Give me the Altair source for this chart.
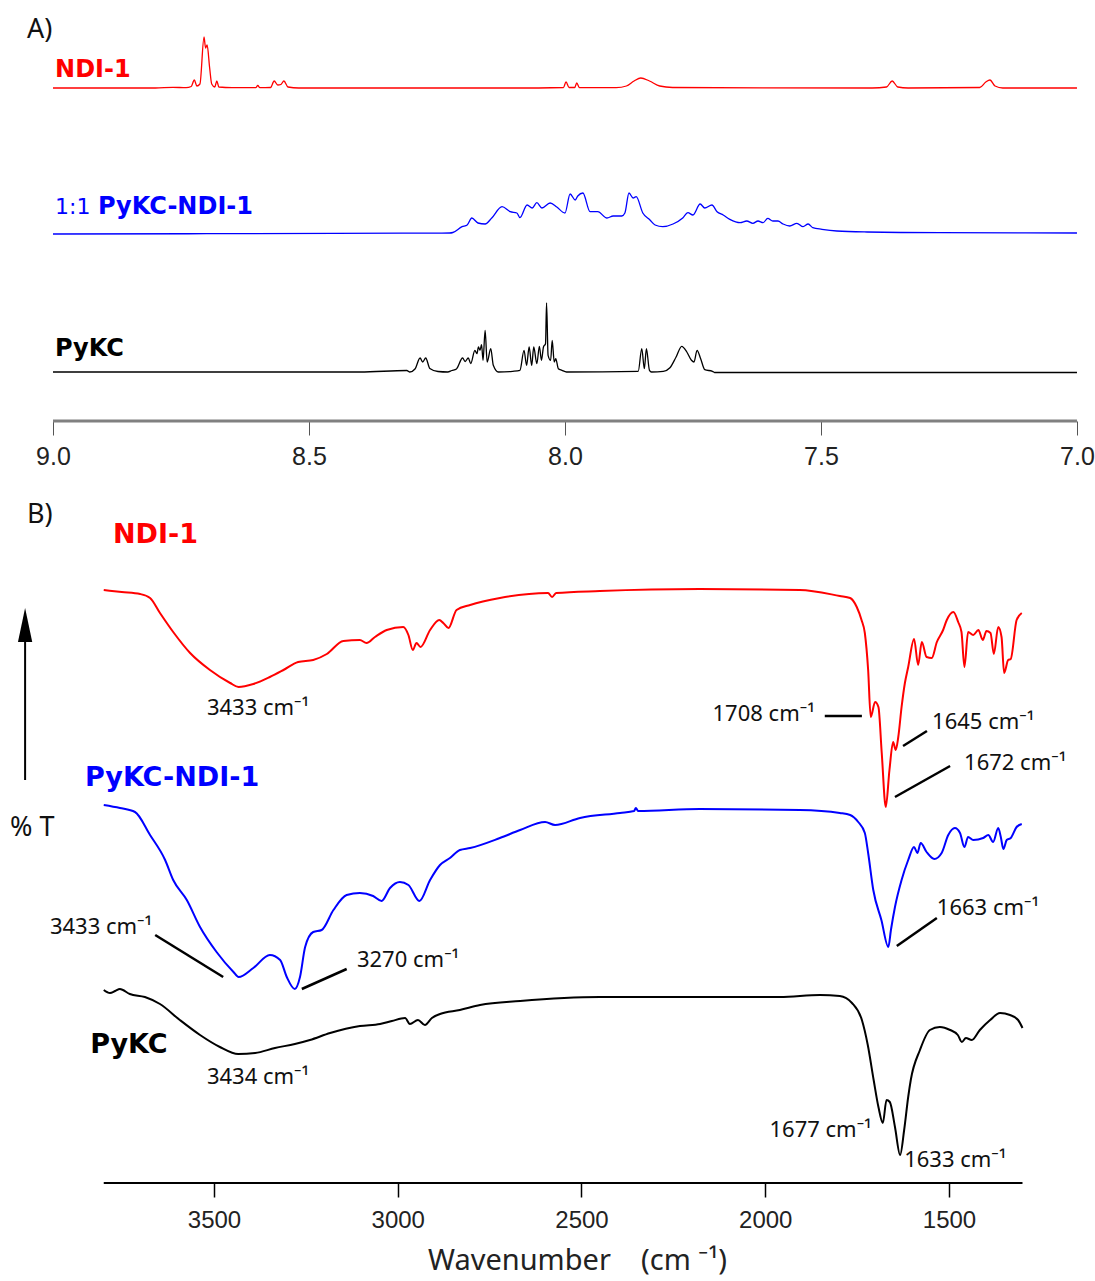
import altair as alt
import pandas as pd

# ---------------- Panel A : 1H NMR (ppm, intensity above each baseline) ----------------
nmr_series = ["NDI-1", "1:1 PyKC-NDI-1", "PyKC"]
nmr_colors = ["#ff0000", "#0000ff", "#000000"]
nmr_offsets = [333, 187, 49]          # vertical stacking of the traces
nmr_ticks = [9.0, 8.5, 8.0, 7.5, 7.0]

ndi_ppm = [9.00, 8.80, 8.766, 8.74, 8.730, 8.724, 8.719, 8.713, 8.705, 8.702,
           8.699, 8.694, 8.690, 8.684, 8.680, 8.676, 8.65, 8.604, 8.600, 8.596,
           8.575, 8.568, 8.561, 8.555, 8.549, 8.541, 8.52, 8.10, 8.003, 7.998,
           7.992, 7.981, 7.977, 7.972, 7.90, 7.88, 7.865, 7.852, 7.835, 7.815,
           7.79, 7.40, 7.372, 7.361, 7.350, 7.33, 7.19, 7.178, 7.170, 7.160,
           7.145, 7.00]
ndi_int = [0, 0, 0.7, 0.3, 1.5, 8, 2, 4, 51, 40,
           43, 20, 4, 1, 7, 1, 0.3, 0.3, 2.5, 0.3,
           0.5, 7, 3, 3.5, 7, 1, 0, 0, 0.5, 6,
           0.5, 0.5, 5, 0.5, 0.3, 2, 7, 10, 7, 2,
           0.5, 0, 1, 7, 1, 0, 0.5, 6, 8, 2,
           0, 0]

mix_ppm = [9.00, 8.70, 8.45, 8.225, 8.219, 8.201, 8.191, 8.182, 8.170, 8.156,
           8.143, 8.123, 8.107, 8.094, 8.088, 8.074, 8.064, 8.055, 8.045, 8.029,
           8.016, 8.000, 7.990, 7.980, 7.975, 7.965, 7.951, 7.936, 7.918, 7.906,
           7.889, 7.883, 7.875, 7.867, 7.861, 7.848, 7.834, 7.824, 7.809, 7.789,
           7.770, 7.760, 7.750, 7.736, 7.727, 7.713, 7.703, 7.691, 7.678, 7.658,
           7.645, 7.633, 7.623, 7.613, 7.604, 7.594, 7.584, 7.574, 7.561, 7.547,
           7.535, 7.525, 7.516, 7.498, 7.469, 7.410, 7.268, 7.10, 7.00]
mix_int = [0, 0.3, 0.7, 1, 1.5, 7.3, 9, 16, 11, 10,
           16, 27.3, 22.3, 21, 16.3, 29, 26, 31.3, 26, 31,
           27, 21, 40, 34, 38, 41, 22.3, 22.3, 16, 18,
           18, 21, 41, 36, 37.3, 21, 14, 9, 7.3, 10,
           16, 21.3, 19, 30, 26, 29, 22.3, 19, 14.7, 11.3,
           13, 10.7, 13, 11.3, 15.7, 13, 13, 10, 8, 10.7,
           7.3, 10, 6.3, 4.7, 3, 2, 1.3, 1.2, 1]

pykc_ppm = [9.00, 8.40, 8.309, 8.303, 8.293, 8.283, 8.278, 8.272, 8.264, 8.248,
            8.229, 8.221, 8.212, 8.200, 8.195, 8.189, 8.184, 8.176, 8.172, 8.169,
            8.166, 8.163, 8.160, 8.156, 8.152, 8.145, 8.140, 8.130, 8.102, 8.088,
            8.080, 8.075, 8.070, 8.065, 8.061, 8.055, 8.050, 8.046, 8.042, 8.038,
            8.036, 8.033, 8.028, 8.025, 8.021, 8.018, 8.013, 8.006, 7.997, 7.857,
            7.850, 7.845, 7.841, 7.835, 7.831, 7.808, 7.795, 7.783, 7.772, 7.762,
            7.753, 7.748, 7.742, 7.735, 7.727, 7.712, 7.708, 7.00]
pykc_int = [0, 0, 1.5, 0, 3, 14, 10, 14, 3.5, 0.5,
            0, 1.5, 3, 14, 10.5, 14, 8.5, 21.7, 18.3, 25,
            21.7, 27.3, 11.7, 41.7, 10, 23.3, 6.7, 0, 0.7, 1.7,
            21.7, 6.7, 25, 6.7, 25, 8.3, 25.7, 11.7, 25, 28.3,
            69, 16.7, 11.7, 31.7, 10, 13.3, 3.3, 1.7, 0, 0.7,
            23.3, 3.3, 23.3, 1.7, 0, 0.7, 4.3, 15, 25.7, 20,
            11.7, 10, 21.7, 13.3, 2.3, 0.7, -0.5, -0.5]

# ---------------- Panel B : FT-IR (wavenumber, transmittance, stacked, arbitrary units) ----------------
ir_series = ["NDI-1", "PyKC-NDI-1", "PyKC"]
ir_colors = ["#ff0000", "#0000ff", "#000000"]
ir_ticks = [3500, 3000, 2500, 2000, 1500]
ir_range = [3800, 1300]

ir_ndi_wn = [3800, 3751, 3701, 3674, 3647, 3611, 3565, 3511, 3456, 3433,
             3393, 3348, 3311, 3271, 3230, 3193, 3148, 3103, 3085, 3062,
             3030, 2985, 2971, 2959, 2949, 2938, 2912, 2887, 2876, 2862,
             2840, 2803, 2722, 2591, 2580, 2569, 2450, 2178, 1906, 1797,
             1769, 1751, 1738, 1729, 1720, 1713, 1701, 1692, 1683, 1672,
             1662, 1652, 1645, 1638, 1629, 1620, 1611, 1595, 1584, 1574,
             1561, 1547, 1533, 1516, 1506, 1488, 1475, 1466, 1458, 1448,
             1434, 1420, 1408, 1398, 1387, 1378, 1366, 1357, 1350, 1339,
             1332, 1316, 1302]
ir_ndi_t = [593, 591, 589, 585, 570, 551, 530, 513, 500, 496,
            499, 506, 513, 521, 523, 529, 542, 543, 540, 546,
            553, 556, 548, 533, 540, 536, 553, 563, 560, 555,
            573, 578, 585, 590, 586, 590, 592, 594, 593, 587,
            585, 576, 563, 550, 513, 466, 481, 476, 430, 376,
            413, 441, 433, 446, 476, 500, 516, 544, 518, 541,
            526, 525, 541, 553, 563, 571, 561, 551, 516, 551,
            548, 553, 543, 552, 550, 529, 556, 546, 510, 523,
            524, 563, 570]

ir_mix_wn = [3800, 3756, 3715, 3674, 3633, 3611, 3574, 3538, 3493, 3447,
             3433, 3393, 3348, 3320, 3302, 3280, 3266, 3252, 3230, 3207,
             3175, 3139, 3103, 3067, 3044, 3021, 2994, 2971, 2941, 2912,
             2885, 2858, 2831, 2803, 2722, 2667, 2599, 2572, 2504, 2395,
             2357, 2352, 2346, 2178, 1906, 1797, 1769, 1747, 1729, 1720,
             1706, 1684, 1665, 1658, 1647, 1629, 1611, 1595, 1586, 1577,
             1561, 1540, 1520, 1502, 1484, 1470, 1458, 1448, 1434, 1407,
             1393, 1380, 1366, 1359, 1352, 1343, 1332, 1316, 1302]
ir_mix_t = [378, 375, 371, 348, 323, 303, 283, 256, 231, 211,
            206, 215, 228, 223, 206, 194, 206, 236, 251, 253,
            273, 288, 290, 287, 282, 295, 301, 298, 282, 303,
            318, 325, 333, 335, 345, 353, 361, 358, 365, 370,
            372, 375, 372, 374, 373, 370, 368, 361, 350, 330,
            293, 263, 236, 253, 276, 303, 323, 336, 330, 340,
            331, 324, 330, 348, 355, 350, 336, 346, 343, 345,
            348, 341, 355, 346, 334, 343, 345, 356, 359]

ir_pykc_wn = [3800, 3783, 3769, 3756, 3729, 3688, 3647, 3593, 3538, 3484,
              3434, 3388, 3334, 3280, 3239, 3184, 3103, 3048, 3016, 2980,
              2967, 2945, 2926, 2907, 2885, 2831, 2776, 2667, 2450, 2178,
              1960, 1851, 1797, 1764, 1737, 1721, 1705, 1692, 1680, 1670,
              1661, 1647, 1633, 1622, 1611, 1604, 1579, 1552, 1525, 1497,
              1476, 1465, 1454, 1438, 1416, 1388, 1361, 1334, 1312, 1300]
ir_pykc_t = [193, 190, 192, 194, 189, 186, 179, 163, 148, 136,
             129, 130, 135, 139, 143, 150, 157, 159, 162, 165,
             159, 163, 158, 165, 169, 173, 178, 182, 186, 186,
             186, 188, 187, 180, 163, 138, 103, 76, 60, 83,
             81, 56, 28, 53, 86, 103, 133, 153, 156, 153,
             148, 141, 145, 143, 153, 163, 170, 168, 163, 155]

# peak annotations: text, anchor wavenumber, anchor value, alignment
ann_text = ["3433 cm⁻¹", "3434 cm⁻¹", "1708 cm⁻¹", "3433 cm⁻¹", "1677 cm⁻¹",
            "1645 cm⁻¹", "1672 cm⁻¹", "3270 cm⁻¹", "1663 cm⁻¹", "1633 cm⁻¹"]
ann_wn = [3380, 3380, 1865, 3668, 1710, 1546, 1459, 3111, 1533, 1622]
ann_v = [475, 106, 469, 256, 53, 461, 420, 223, 275, 23]
ann_align = ["center", "center", "right", "right", "right",
             "left", "left", "left", "left", "left"]
# leader lines
lead_wn = [1838, 1625, 1647, 3660, 3261, 1642]
lead_wn2 = [1737, 1560, 1497, 3475, 3139, 1533]
lead_v = [467, 437, 386, 248, 194, 237]
lead_v2 = [467, 452, 417, 206, 214, 265]

TICK_FONT = "'Liberation Sans Narrow', 'Liberation Sans', sans-serif"
TEXT_FONT = "Noto Sans"
BOLD_FONT = "DejaVu Sans"

# ---------------- build panel A ----------------
frames = []
for name, ppm, inten, off in zip(nmr_series, [ndi_ppm, mix_ppm, pykc_ppm],
                                 [ndi_int, mix_int, pykc_int], nmr_offsets):
    frames.append(pd.DataFrame({"ppm": ppm, "y": [off + v for v in inten], "nmr": name}))
nmr_df = pd.concat(frames, ignore_index=True)

HA = 421
xA = alt.X("ppm:Q",
           scale=alt.Scale(domain=[6.9648, 9.1035], reverse=True, nice=False, zero=False),
           axis=alt.Axis(values=nmr_ticks, format=".1f", domain=False, grid=False,
                         tickSize=14, tickColor="#555555", tickWidth=1,
                         labelFont=TICK_FONT, labelFontSize=25, labelPadding=9,
                         labelFlush=False, labelColor="#222222", title=None))
yA = alt.Y("y:Q", scale=alt.Scale(domain=[0, HA], nice=False, zero=False), axis=None)
colA = alt.Color("nmr:N", scale=alt.Scale(domain=nmr_series, range=nmr_colors), legend=None)

linesA = alt.Chart(nmr_df).mark_line(strokeWidth=1.3, interpolate="monotone").encode(
    x=xA, y=yA, color=colA, order=alt.Order("ppm:Q", sort="descending"))
axisA = alt.Chart(pd.DataFrame({"ppm": [max(nmr_ticks)], "ppm2": [min(nmr_ticks)]})).mark_rule(
    color="#808080", strokeWidth=3).encode(x="ppm:Q", x2="ppm2:Q", y=alt.value(HA))

labA_df = pd.DataFrame({"ppm": [9.0508], "y": [391], "t": ["A)"]})
labA = alt.Chart(labA_df).mark_text(align="left", baseline="middle", font=TEXT_FONT,
                                    fontSize=27, color="#111111").encode(x="ppm:Q", y="y:Q", text="t:N")
nmr_lab_bold = pd.DataFrame({"ppm": [8.996, 8.912, 8.996], "y": [351, 214, 72],
                             "t": ["NDI-1", "PyKC-NDI-1", "PyKC"], "nmr": nmr_series})
labBoldA = alt.Chart(nmr_lab_bold).mark_text(align="left", baseline="middle", font=BOLD_FONT,
                                             fontSize=24, fontWeight="bold").encode(
    x="ppm:Q", y="y:Q", text="t:N", color=colA)
lab11 = alt.Chart(pd.DataFrame({"ppm": [8.996], "y": [214], "t": ["1:1"]})).mark_text(
    align="left", baseline="middle", font=BOLD_FONT, fontSize=22, color="#0000ff").encode(
    x="ppm:Q", y="y:Q", text="t:N")

panelA = alt.layer(linesA, axisA, labA, labBoldA, lab11).properties(width=1095, height=HA)

# ---------------- build panel B ----------------
frames = []
for name, wn, t in zip(ir_series, [ir_ndi_wn, ir_mix_wn, ir_pykc_wn], [ir_ndi_t, ir_mix_t, ir_pykc_t]):
    frames.append(pd.DataFrame({"wn": wn, "v": t, "ir": name}))
ir_df = pd.concat(frames, ignore_index=True)

HB = 688
xB = alt.X("wn:Q",
           scale=alt.Scale(domain=[1102.7, 4082.3], reverse=True, nice=False, zero=False),
           axis=alt.Axis(values=ir_ticks, format="d", domain=False, grid=False,
                         tickSize=14, tickColor="#000000", tickWidth=1.5,
                         labelFont=TICK_FONT, labelFontSize=24, labelPadding=11,
                         labelFlush=False, labelColor="#222222",
                         title="Wavenumber\u00a0\u00a0\u00a0\u00a0(cm\u00a0⁻¹)", titleFont=TEXT_FONT,
                         titleFontSize=29, titleFontWeight="normal", titleColor="#222222",
                         titleX=577, titleY=86, titleAlign="center", titleBaseline="alphabetic"))
yB = alt.Y("v:Q", scale=alt.Scale(domain=[0, HB], nice=False, zero=False), axis=None)
colB = alt.Color("ir:N", scale=alt.Scale(domain=ir_series, range=ir_colors), legend=None)

linesB = alt.Chart(ir_df).mark_line(strokeWidth=2, interpolate="monotone").encode(
    x=xB, y=yB, color=colB, order=alt.Order("wn:Q", sort="descending"))
axisB = alt.Chart(pd.DataFrame({"wn": [ir_range[0]], "wn2": [ir_range[1]]})).mark_rule(
    color="#000000", strokeWidth=2).encode(x="wn:Q", x2="wn2:Q", y=alt.value(HB))

ann_df = pd.DataFrame({"wn": ann_wn, "v": ann_v, "t": ann_text, "a": ann_align})
ann_layers = []
for al in ["left", "center", "right"]:
    ann_layers.append(
        alt.Chart(ann_df[ann_df["a"] == al]).mark_text(
            align=al, baseline="middle", font=TEXT_FONT, fontSize=22, color="#111111").encode(
            x="wn:Q", y="v:Q", text="t:N"))
lead_df = pd.DataFrame({"wn": lead_wn, "wn2": lead_wn2, "v": lead_v, "v2": lead_v2})
leads = alt.Chart(lead_df).mark_rule(color="#000000", strokeWidth=2.5).encode(
    x="wn:Q", x2="wn2:Q", y="v:Q", y2="v2:Q")

ir_lab = pd.DataFrame({"wn": [3775, 3851, 3837], "v": [648, 405, 138],
                       "t": ir_series, "ir": ir_series})
labBoldB = alt.Chart(ir_lab).mark_text(align="left", baseline="middle", font=BOLD_FONT,
                                       fontSize=27, fontWeight="bold").encode(
    x="wn:Q", y="v:Q", text="t:N", color=colB)
misc_df = pd.DataFrame({"wn": [4009, 4055], "v": [668, 355], "t": ["B)", "% T"]})
labMisc = alt.Chart(misc_df).mark_text(align="left", baseline="middle", font=TEXT_FONT,
                                       fontSize=27, color="#111111").encode(x="wn:Q", y="v:Q", text="t:N")
arrow_line = alt.Chart(pd.DataFrame({"wn": [4014], "v": [403], "v2": [545]})).mark_rule(
    color="#000000", strokeWidth=2).encode(x="wn:Q", y="v:Q", y2="v2:Q")
arrow_head = alt.Chart(pd.DataFrame({"wn": [4014], "v": [558]})).mark_point(
    shape="M0,-1L0.42,1L-0.42,1Z", filled=True, size=1156, color="#000000", opacity=1).encode(
    x="wn:Q", y="v:Q")

panelB = alt.layer(linesB, axisB, leads, *ann_layers, labBoldB, labMisc, arrow_line, arrow_head
                   ).properties(width=1095, height=HB)

chart = alt.vconcat(panelA, panelB, spacing=26).resolve_scale(color="independent").properties(
    padding={"left": 0, "top": 0, "right": 0, "bottom": 4}, background="white"
).configure_view(stroke=None)

chart.save("out.html", embed_options={"renderer": "svg", "actions": False})
